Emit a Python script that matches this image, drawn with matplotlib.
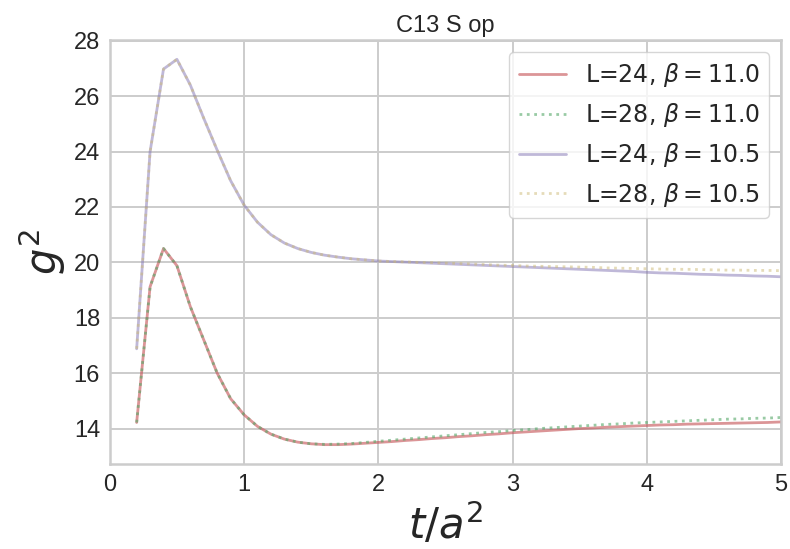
import numpy as np
import matplotlib
matplotlib.use("Agg")
import matplotlib.pyplot as plt
import seaborn as sns

# flow time t/a^2
t = np.round(np.arange(0.2, 5.01, 0.1), 1)

# L=24, beta=11.0
g2_L24_b110 = [14.22, 19.12, 20.50, 19.88, 18.40, 17.20, 16.00, 15.08, 14.50, 14.08,
               13.80, 13.62, 13.51, 13.45, 13.42, 13.42, 13.44, 13.47, 13.50, 13.53,
               13.57, 13.60, 13.64, 13.67, 13.71, 13.74, 13.78, 13.81, 13.85, 13.88,
               13.91, 13.94, 13.97, 14.00, 14.02, 14.05, 14.07, 14.09, 14.11, 14.13,
               14.14, 14.16, 14.17, 14.18, 14.19, 14.20, 14.21, 14.22, 14.24]
# L=28, beta=11.0
g2_L28_b110 = [14.22, 19.12, 20.50, 19.88, 18.40, 17.20, 16.00, 15.08, 14.50, 14.08,
               13.80, 13.62, 13.51, 13.45, 13.43, 13.44, 13.46, 13.50, 13.54, 13.58,
               13.62, 13.66, 13.70, 13.74, 13.78, 13.82, 13.86, 13.89, 13.93, 13.96,
               14.00, 14.03, 14.06, 14.09, 14.12, 14.15, 14.17, 14.20, 14.22, 14.24,
               14.26, 14.28, 14.30, 14.32, 14.34, 14.35, 14.37, 14.38, 14.40]
# L=24, beta=10.5
g2_L24_b105 = [16.88, 24.00, 26.98, 27.33, 26.40, 25.20, 24.05, 22.95, 22.07, 21.45,
               21.00, 20.70, 20.50, 20.36, 20.26, 20.19, 20.13, 20.09, 20.05, 20.03,
               20.01, 19.99, 19.97, 19.95, 19.93, 19.91, 19.89, 19.87, 19.85, 19.83,
               19.81, 19.79, 19.77, 19.75, 19.73, 19.71, 19.69, 19.67, 19.64, 19.62,
               19.61, 19.59, 19.57, 19.56, 19.54, 19.53, 19.51, 19.50, 19.48]
# L=28, beta=10.5
g2_L28_b105 = [16.88, 24.00, 26.98, 27.33, 26.40, 25.20, 24.05, 22.95, 22.07, 21.45,
               21.00, 20.70, 20.50, 20.36, 20.26, 20.19, 20.13, 20.09, 20.05, 20.03,
               20.02, 20.00, 19.99, 19.97, 19.96, 19.94, 19.92, 19.90, 19.89, 19.87,
               19.86, 19.85, 19.84, 19.83, 19.82, 19.80, 19.79, 19.78, 19.77, 19.76,
               19.75, 19.75, 19.74, 19.73, 19.72, 19.72, 19.71, 19.71, 19.70]

sns.set_style("whitegrid")
plt.rcParams['font.family'] = ['Liberation Sans', 'DejaVu Sans']
plt.rcParams['grid.linewidth'] = 1.4
plt.rcParams['axes.linewidth'] = 1.8

fig = plt.figure(figsize=(7.9, 5.49), dpi=100)
ax = fig.add_axes([0.139, 0.155, 0.8496, 0.772])

ax.plot(t, g2_L24_b110, '-', color='#C44E52', alpha=0.6, lw=2, label=r'L=24, $\beta=11.0$')
ax.plot(t, g2_L28_b110, ':', color='#55A868', alpha=0.6, lw=2, label=r'L=28, $\beta=11.0$')
ax.plot(t, g2_L24_b105, '-', color='#8172B2', alpha=0.5, lw=2, label=r'L=24, $\beta=10.5$')
ax.plot(t, g2_L28_b105, ':', color='#CCB974', alpha=0.5, lw=2, label=r'L=28, $\beta=10.5$')

ax.set_xlim(0, 5)
ax.set_title('C13 S op', fontsize=17)
ax.set_xlabel(r'$t/a^2$', fontsize=30)
ax.set_ylabel(r'$g^2$', fontsize=30)
ax.tick_params(labelsize=17)
ax.legend(loc='upper right', prop={'family': 'DejaVu Sans', 'size': 17})

fig.savefig('out.png', dpi=100)
